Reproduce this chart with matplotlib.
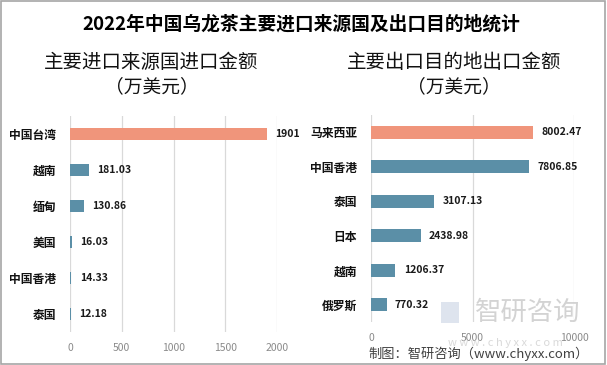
import matplotlib
matplotlib.use("Agg")
import matplotlib.pyplot as plt
from matplotlib.patches import Rectangle

plt.rcParams['font.family'] = ['Noto Sans CJK SC', 'DejaVu Sans']

# data
title = '2022年中国乌龙茶主要进口来源国及出口目的地统计'
import_title = ['主要进口来源国进口金额', '（万美元）']
export_title = ['主要出口目的地出口金额', '（万美元）']

import_names = ['中国台湾', '越南', '缅甸', '美国', '中国香港', '泰国']
import_values = [1901, 181.03, 130.86, 16.03, 14.33, 12.18]
import_labels = ['1901', '181.03', '130.86', '16.03', '14.33', '12.18']
import_ticks = [0, 500, 1000, 1500, 2000]

export_names = ['马来西亚', '中国香港', '泰国', '日本', '越南', '俄罗斯']
export_values = [8002.47, 7806.85, 3107.13, 2438.98, 1206.37, 770.32]
export_labels = ['8002.47', '7806.85', '3107.13', '2438.98', '1206.37', '770.32']
export_ticks = [0, 5000, 10000]

SALMON = '#F0957B'
TEAL = '#5B8FA7'

W, H = 607, 365
fig = plt.figure(figsize=(W / 100, H / 100), dpi=100)
fig.patches.append(Rectangle((0.002, 0.003), 0.995, 0.994, transform=fig.transFigure,
                             fill=False, edgecolor='#a6a6a6', linewidth=1.2))


def px_axes(x0, x1, y0, y1):
    return fig.add_axes([x0 / W, 1 - y1 / H, (x1 - x0) / W, (y1 - y0) / H])


def fig_text(x, y, s, **kw):
    return fig.text(x / W, 1 - y / H, s, **kw)


def draw_panel(ax, names, values, labels, ticks, xmax, bar_h):
    y = list(range(len(names)))
    colors = [SALMON] + [TEAL] * (len(names) - 1)
    ax.barh(y, values, height=bar_h, color=colors, zorder=3)
    for yi, v, lab in zip(y, values, labels):
        ax.annotate(lab, (v, yi), xytext=(6, 0), textcoords='offset points',
                    va='center', ha='left', fontsize=7.5, fontweight='bold',
                    color='#1a1a1a', annotation_clip=False)
    ax.set_xlim(0, xmax)
    ax.set_ylim(len(names) - 0.5, -0.5)
    ax.set_yticks(y)
    ax.set_yticklabels(names, fontsize=8.5, fontweight='bold', color='#111111')
    ax.set_xticks(ticks)
    ax.tick_params(axis='x', colors='#8a8a8a', labelsize=7.5, length=0, pad=8)
    ax.tick_params(axis='y', length=0, pad=10)
    for s in ax.spines.values():
        s.set_visible(False)
    ax.grid(axis='x', color='#d9d9d9', linewidth=0.9, zorder=0)
    ax.set_facecolor('none')


ax1 = px_axes(70, 277, 116, 332)
draw_panel(ax1, import_names, import_values, import_labels, import_ticks, 2000, 0.35)

ax2 = px_axes(371, 574, 115, 322)
draw_panel(ax2, export_names, export_values, export_labels, export_ticks, 10000, 0.37)

fig_text(301, 24, title, ha='center', va='center', fontsize=13.5, fontweight='bold')
fig_text(151, 62, import_title[0], ha='center', va='center', fontsize=14, color='#111111')
fig_text(152, 87, import_title[1], ha='center', va='center', fontsize=13.5, color='#111111')
fig_text(454, 62, export_title[0], ha='center', va='center', fontsize=14, color='#111111')
fig_text(454, 87, export_title[1], ha='center', va='center', fontsize=13.5, color='#111111')

# watermark
fig.patches.append(Rectangle((441 / W, 1 - 323 / H), 18 / W, 21 / H, transform=fig.transFigure,
                             facecolor='#c9d3e3', edgecolor='none', alpha=0.6, zorder=5))
fig_text(528, 312, '智研咨询', ha='center', va='center', fontsize=19,
         color='#c8c8c8', alpha=0.8, zorder=5)
fig_text(505, 343, 'w w w . c h y x x . c o m', ha='center', va='center',
         fontsize=8, color='#d0d0d0', alpha=0.8, zorder=5)

fig_text(589, 354, '制图：智研咨询（www.chyxx.com）', ha='right', va='center',
         fontsize=9.5, color='#404040', zorder=6)

fig.savefig('out.png', dpi=100)
